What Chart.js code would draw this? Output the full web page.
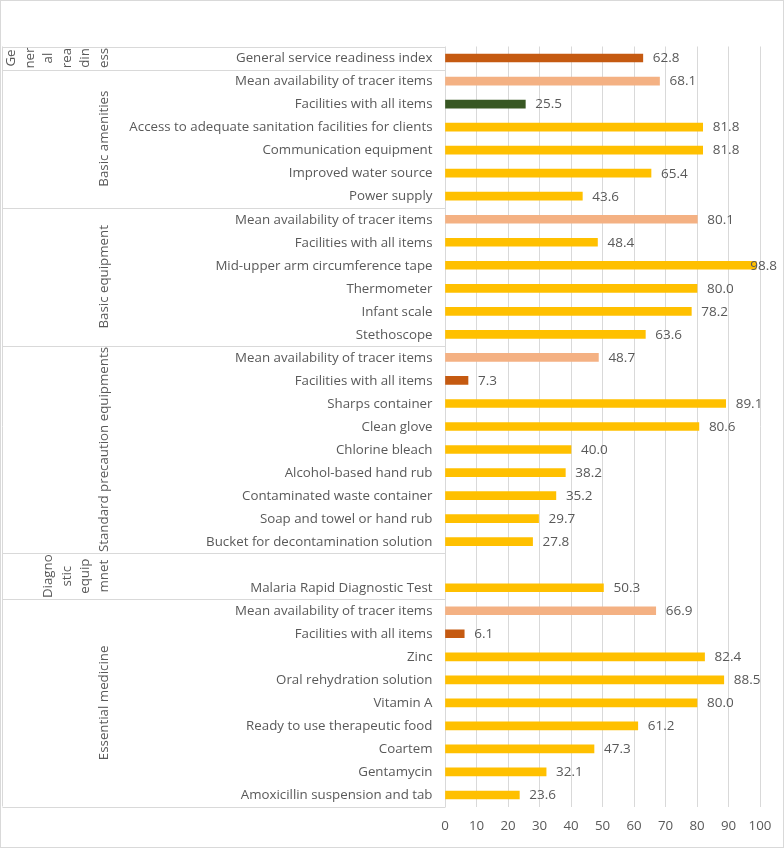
<!DOCTYPE html>
<html>
<head>
<meta charset="utf-8">
<script src="https://cdn.jsdelivr.net/npm/chart.js@4/dist/chart.umd.min.js"></script>
<style>
html,body{margin:0;padding:0;background:#fff;}
#wrap{position:relative;width:784px;height:848px;}
</style>
</head>
<body>
<div id="wrap"><canvas id="c" width="784" height="848"></canvas></div>
<script>
// ---- data ----
const categories = [
  "General service readiness index",
  "Mean availability of tracer items",
  "Facilities with all items",
  "Access to adequate sanitation facilities for clients",
  "Communication equipment",
  "Improved water source",
  "Power supply",
  "Mean availability of tracer items",
  "Facilities with all items",
  "Mid-upper arm circumference tape",
  "Thermometer",
  "Infant scale",
  "Stethoscope",
  "Mean availability of tracer items",
  "Facilities with all items",
  "Sharps container",
  "Clean glove",
  "Chlorine bleach",
  "Alcohol-based hand rub",
  "Contaminated waste container",
  "Soap and towel or hand rub",
  "Bucket for decontamination solution",
  "",
  "Malaria Rapid Diagnostic Test",
  "Mean availability of tracer items",
  "Facilities with all items",
  "Zinc",
  "Oral rehydration solution",
  "Vitamin A",
  "Ready to use therapeutic food",
  "Coartem",
  "Gentamycin",
  "Amoxicillin suspension and tab"
];
const values = [
  62.8,
  68.1, 25.5, 81.8, 81.8, 65.4, 43.6,
  80.1, 48.4, 98.8, 80.0, 78.2, 63.6,
  48.7, 7.3, 89.1, 80.6, 40.0, 38.2, 35.2, 29.7, 27.8,
  null, 50.3,
  66.9, 6.1, 82.4, 88.5, 80.0, 61.2, 47.3, 32.1, 23.6
];
const groupLabels = [
  ["Ge","ner","al","rea","din","ess"],
  ["Basic amenities"],
  ["Basic equipment"],
  ["Standard precaution equipments"],
  ["Diagno","stic","equip","mnet"],
  ["Essential medicine"]
];
const groupSizes = [1, 6, 6, 9, 2, 9];
const xTicks = [0,10,20,30,40,50,60,70,80,90,100];

// ---- styles ----
const C_DARK = "#C55A11", C_LIGHT = "#F4B183", C_GREEN = "#385723", C_GOLD = "#FFC000";
const barColors = [
  C_DARK,
  C_LIGHT, C_GREEN, C_GOLD, C_GOLD, C_GOLD, C_GOLD,
  C_LIGHT, C_GOLD, C_GOLD, C_GOLD, C_GOLD, C_GOLD,
  C_LIGHT, C_DARK, C_GOLD, C_GOLD, C_GOLD, C_GOLD, C_GOLD, C_GOLD, C_GOLD,
  C_GOLD, C_GOLD,
  C_LIGHT, C_DARK, C_GOLD, C_GOLD, C_GOLD, C_GOLD, C_GOLD, C_GOLD, C_GOLD
];
const TXT = "#595959";
const LINE = "#D9D9D9";
const FONT = "'Open Sans', 'Liberation Sans', sans-serif";

const decorPlugin = {
  id: "decor",
  afterDraw(chart) {
    const ctx = chart.ctx;
    const y = chart.scales.y;
    const x = chart.scales.x;
    const ca = chart.chartArea;
    const step = (y.getPixelForValue(1) - y.getPixelForValue(0));
    ctx.save();
    // outer border
    ctx.strokeStyle = LINE; ctx.lineWidth = 1;
    ctx.strokeRect(0.5, 0.5, chart.width - 1, chart.height - 1);
    // left label box vertical
    const boxL = 2.5;
    const axisX = Math.round(x.getPixelForValue(0)) + 0.5;
    ctx.beginPath();
    ctx.moveTo(boxL, ca.top); ctx.lineTo(boxL, ca.bottom);
    // group separators
    let idx = 0;
    const bounds = [ca.top];
    groupSizes.forEach(s => { idx += s; bounds.push(y.getPixelForValue(idx - 1) + step / 2); });
    bounds.forEach(b => { const yy = Math.round(b) + 0.5; ctx.moveTo(boxL, yy); ctx.lineTo(axisX, yy); });
    ctx.stroke();
    // category labels
    ctx.fillStyle = TXT;
    ctx.font = "13.3px " + FONT;
    ctx.textAlign = "right"; ctx.textBaseline = "middle";
    categories.forEach((c, i) => { if (c) ctx.fillText(c, axisX - 13, y.getPixelForValue(i) + 0.5); });
    // group labels
    ctx.font = "13.3px " + FONT;
    ctx.textAlign = "center"; ctx.textBaseline = "middle";
    const lh = 18.5;
    groupLabels.forEach((lines, g) => {
      const cy = (bounds[g] + bounds[g + 1]) / 2;
      ctx.save();
      ctx.translate(104, cy);
      ctx.rotate(-Math.PI / 2);
      lines.forEach((ln, i) => ctx.fillText(ln, 0, (i - (lines.length - 1)) * lh));
      ctx.restore();
    });
    // value labels
    ctx.font = "13.5px " + FONT;
    ctx.textAlign = "left";
    const rightLimit = 777;
    values.forEach((v, i) => {
      if (v === null) return;
      const t = v.toFixed(1);
      const w = ctx.measureText(t).width;
      let tx = x.getPixelForValue(v) + 10;
      if (tx + w > rightLimit) tx = rightLimit - w;
      ctx.fillText(t, tx, y.getPixelForValue(i) + 0.5);
    });
    ctx.restore();
  }
};

new Chart(document.getElementById("c"), {
  type: "bar",
  data: {
    labels: categories.map((c, i) => c || ("_" + i)),
    datasets: [{
      data: values,
      backgroundColor: barColors,
      barThickness: 8,
      borderWidth: 0
    }]
  },
  options: {
    indexAxis: "y",
    responsive: false,
    animation: false,
    devicePixelRatio: 1,
    layout: { padding: { left: 445, right: 24, top: 46.5, bottom: 0 } },
    plugins: { legend: { display: false }, tooltip: { enabled: false } },
    scales: {
      x: {
        min: 0, max: 100,
        afterBuildTicks: s => { s.ticks = xTicks.map(v => ({ value: v })); },
        grid: { color: LINE, drawTicks: false, lineWidth: 1 },
        border: { display: false },
        ticks: { color: TXT, font: { family: FONT, size: 13.3 }, padding: 12, maxRotation: 0 },
        afterFit: s => { s.height = 848 - 806.5; }
      },
      y: { display: false, offset: true }
    }
  },
  plugins: [decorPlugin]
});
</script>
</body>
</html>
